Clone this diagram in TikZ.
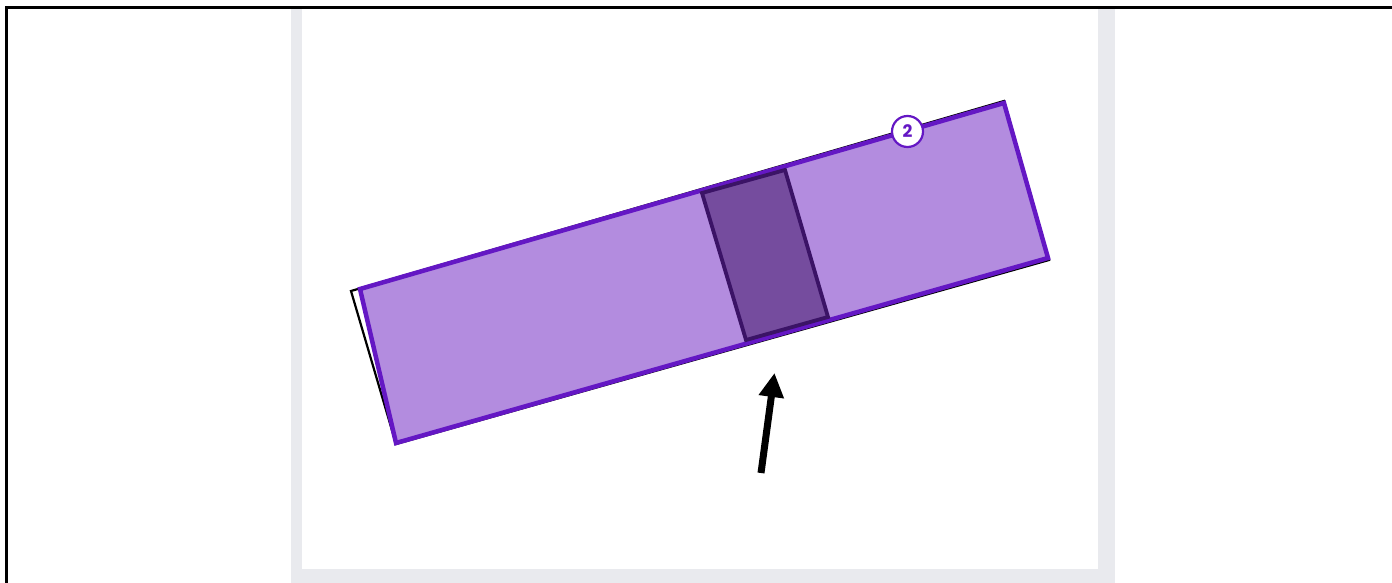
\documentclass[tikz,border=0pt]{standalone}
\usepackage{fontspec}
\newfontfamily\badgefont{Poppins}[BoldFont={* Bold}]
\usetikzlibrary{arrows.meta}
\definecolor{panelgray}{HTML}{E9EAEE}
\definecolor{lightpurple}{HTML}{B38CDF}
\definecolor{vividpurple}{HTML}{6417C4}
\definecolor{darkfill}{HTML}{754C9E}
\definecolor{darkstroke}{HTML}{3B1366}
\tikzset{
  px/.style={line width=#1*0.5pt},
  bigband/.style={fill=lightpurple, draw=vividpurple, px=4.5, line join=miter},
  shadowband/.style={draw=black, px=2.2, line join=miter},
  darkband/.style={fill=darkfill, draw=darkstroke, px=3.8, line join=miter},
  badge/.style={circle, fill=white, draw=vividpurple, px=2.2, minimum size=15.5pt, inner sep=0pt,
    font=\badgefont\bfseries\fontsize{8.6}{9}\selectfont, text=vividpurple},
  pointer/.style={draw=black, px=7, -{Triangle[length=12pt,width=12pt]}}
}
\begin{document}
\begin{tikzpicture}[x=0.5pt,y=-0.5pt]
\useasboundingbox (0,0) rectangle (1392,583);
\fill[white] (0,0) rectangle (1392,583);
% panel
\fill[panelgray] (291,8) rectangle (1115,583);
\fill[white] (302,9) rectangle (1098,569);
% outer border
\draw[black, px=3] (6,583) -- (6,7.5) -- (1392,7.5);
% black shadow outline
\draw[shadowband] (351,291) -- (1004,101) -- (1049,260) -- (396,444) -- cycle;
% main band
\draw[bigband] (360,289) -- (1004,103) -- (1048,258) -- (396,443) -- cycle;
% dark inner section
\draw[darkband] (702,193) -- (785,170) -- (828,317) -- (746,340) -- cycle;
% badge
\node[badge] (b2) at (907.5,131.5) {2};
% arrow
\coordinate (tail) at (761,473);
\coordinate (tip) at (774.5,373);
\draw[pointer] (tail) -- (tip);
\end{tikzpicture}
\end{document}
